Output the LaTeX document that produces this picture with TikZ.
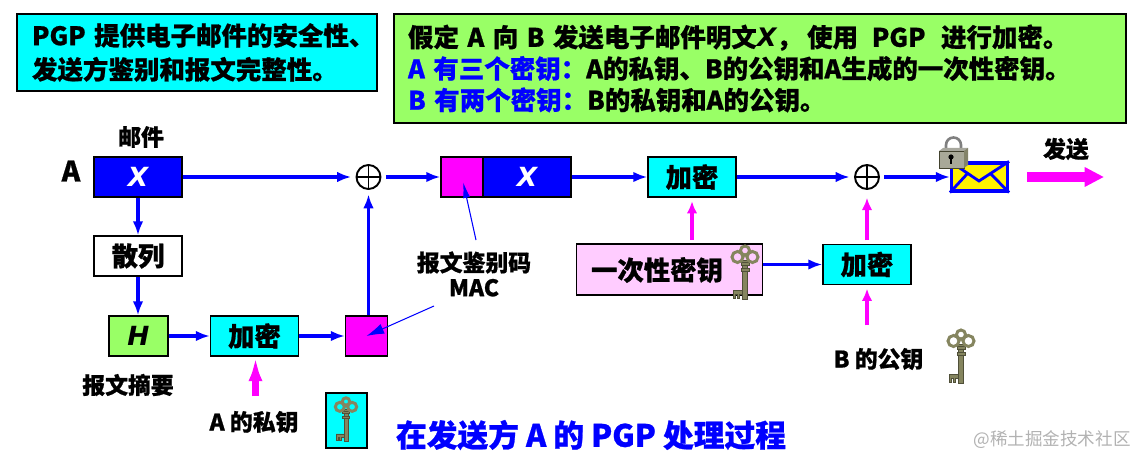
\documentclass[tikz,border=0pt]{standalone}
\usepackage{fontspec}
\setmainfont{Noto Sans CJK SC}[BoldFeatures={FakeBold=0.8}]
\newfontfamily\xfont{DejaVu Sans}
\usetikzlibrary{arrows.meta}

\definecolor{boxcyan}{HTML}{00FFFF}
\definecolor{boxgreen}{HTML}{99FF66}
\definecolor{boxpink}{HTML}{FFCCFF}
\definecolor{boxmagenta}{HTML}{FF00FF}
\definecolor{keygray}{HTML}{85855F}

\tikzset{
    plainbox/.style={draw=black, line width=.7pt, minimum height=.8cm},
    infobox/.style={plainbox, align=left, font=\fontsize{14.5}{#1}\selectfont\bfseries},
    mailbox/.style={plainbox, fill=blue, text=white, minimum width=1.76cm, font=\fontsize{15}{18}\xfont\bfseries\itshape},
    encbox/.style={plainbox, fill=boxcyan, minimum width=1.76cm, font=\fontsize{15}{18}\selectfont\bfseries},
    macbox/.style={plainbox, fill=boxmagenta, minimum width=.84cm},
    tag/.style={font=\fontsize{13}{14.2}\selectfont\bfseries, align=center},
    xorsum/.style={circle, draw=black, line width=1.1pt, minimum size=.48cm, inner sep=0pt, outer sep=3pt,
        path picture={\draw[line width=.9pt] (path picture bounding box.north) -- (path picture bounding box.south)
            (path picture bounding box.west) -- (path picture bounding box.east);}},
    bluearrow/.style={draw=blue, line width=2pt, -{Latex[length=8pt, width=6pt]}},
    pinkarrow/.style={draw=boxmagenta, line width=2.3pt, shorten >=2pt, shorten <=2pt, -{Latex[length=7pt, width=6pt]}},
    thinarrow/.style={draw=blue, line width=.6pt, shorten >=3pt, -{Latex[length=9pt, width=4pt]}},
    pics/keyicon/.style={code={
        \draw[keygray!60!black, line width=.3pt, fill=keygray] (-2.5,15) rectangle (2.5,54);
        \draw[keygray!60!black, line width=.3pt, fill=keygray] (-2.5,45) -- (-12,45) -- (-12,53) -- (-10,53) -- (-10,49)
            -- (-8,49) -- (-8,53) -- (-6,53) -- (-6,49) -- (-2.5,49) -- cycle;
        \draw[keygray!60!black, line width=.3pt, fill=keygray] (-4,17) rectangle (4,20) (-4,23) rectangle (4,26);
        \draw[keygray, line width=1.7pt] (-7.5,12) circle (5.5) (7.5,12) circle (5.5) (0,5.5) circle (4.5);
    }}
}

\begin{document}
\begin{tikzpicture}[x=0.02cm, y=-0.02cm]
    \useasboundingbox (0,0) rectangle (1147,466);

    \node (goal) [infobox=19.3, fill=boxcyan, text width=6.6cm, inner xsep=.3cm, minimum height=1.54cm] at (197,52.5)
        {\mbox{PGP 提供电子邮件的安全性、}\\发送方鉴别和报文完整性。};
    \node (assume) [infobox=17.9, fill=boxgreen, text width=14.08cm, inner xsep=.28cm, minimum height=2.18cm] at (760,68.5)
        {假定 A 向 B 发送电子邮件明文{\xfont\bfseries\itshape X}，\hspace{3pt}使用\hspace{3pt} PGP \hspace{4pt}进行加密。\\
        \textcolor{blue}{A 有三个密钥：}A的私钥、B的公钥和A生成的一次性密钥。\\
        \textcolor{blue}{B 有两个密钥：}B的私钥和A的公钥。};

    % top row
    \node (sender) [tag, font=\fontsize{16}{18}\selectfont\bfseries] at (71,171) {A};
    \node (mailtag) [tag] at (141,137) {邮件};
    \node (mail) [mailbox] at (138,177) {X};
    \node (xorone) [xorsum] at (368.5,177) {};
    \node (mac) [macbox] at (462,177) {};
    \node (mailtwo) [mailbox] at (527,177) {X};
    \node (encone) [encbox] at (692,177) {加密};
    \node (xortwo) [xorsum] at (867,177) {};
    \node (envelope) [draw=blue, line width=1.8pt, fill=yellow, minimum width=1.12cm, minimum height=.56cm, inner sep=0pt] at (979.5,177) {};
    \draw[blue, line width=1.6pt] (envelope.north west) -- (979,181) -- (envelope.north east);
    \draw[blue, line width=1.6pt] (envelope.south west) -- (968,173) (envelope.south east) -- (990,173);

    % lock
    \draw[gray, line width=1.5pt] (946,150) -- (946,145) arc (180:360:7.5) -- (961,150);
    \fill[gray!60!keygray!70] (939,151) -- (943,148) -- (968,148) -- (967,151) -- cycle;
    \draw[keygray!50!black, line width=.4pt, fill=keygray!60!gray!70] (939,151) rectangle (964,168);
    \fill[keygray!70!gray] (964,151) -- (968,148) -- (968,165) -- (964,168) -- cycle;
    \fill[black] (951,157) circle (2.6);
    \fill[black] (950,157) rectangle (952,164);

    \node (sendtag) [tag] at (1066,149) {发送};
    \coordinate (sendfrom) at (1027,177);
    \coordinate (sendto) at (1104,177);
    \draw[draw=boxmagenta, line width=5.7pt, -{Triangle[length=11pt, width=10.5pt]}] (sendfrom) -- (sendto);

    \draw[bluearrow] (mail.east) -- (xorone.west);
    \draw[bluearrow] (xorone.east) -- (mac.west);
    \draw[bluearrow] (mailtwo.east) -- (encone.west);
    \draw[bluearrow] (encone.east) -- (xortwo.west);
    \draw[bluearrow] (xortwo.east) -- (envelope.west);

    % left part
    \node (hashbox) [plainbox, fill=white, minimum width=1.76cm, font=\fontsize{15}{18}\selectfont\bfseries] at (138,256) {散列};
    \node (digest) [plainbox, fill=boxgreen, minimum width=1.18cm, font=\fontsize{15}{18}\xfont\bfseries\itshape] at (138.5,336) {H};
    \node (digesttag) [tag] at (128,385) {报文摘要};
    \node (enctwo) [encbox] at (254.5,336) {加密};
    \node (macsmall) [macbox] at (366.5,336) {};
    \node (privtag) [tag] at (254,422) {A 的私钥};
    \node (privbox) [plainbox, fill=boxcyan, minimum width=.82cm, minimum height=1.1cm] at (346.5,420.5) {};
    \pic[scale=.82] at (346,397) {keyicon};
    \coordinate (privfrom) at (255.5,396);

    \draw[bluearrow] (mail.south) -- (hashbox.north);
    \draw[bluearrow] (hashbox.south) -- (hashbox.south |- digest.north);
    \draw[bluearrow] (digest.east) -- (enctwo.west);
    \draw[bluearrow] (enctwo.east) -- (macsmall.west);
    \draw[bluearrow] (macsmall.north -| xorone.south) -- (xorone.south);
    \draw[draw=boxmagenta, line width=4pt, -{Latex[length=14pt, width=8pt]}] (privfrom) -- (enctwo.south -| privfrom);

    % one-time key and B public key
    \node (onekey) [plainbox, fill=boxpink, minimum width=3.72cm, minimum height=1.02cm] at (669.5,269.5) {};
    \node (onekeytag) [font=\fontsize{15}{18}\selectfont\bfseries] at (657,270) {一次性密钥};
    \pic at (745,245) {keyicon};
    \node (encthree) [encbox] at (867,264.5) {加密};
    \node (pubtag) [tag] at (878.5,359) {B 的公钥};
    \pic at (961,329) {keyicon};
    \coordinate (pubfrom) at (867,329);

    \draw[pinkarrow] (onekey.north -| encone.south) -- (encone.south);
    \draw[bluearrow] (onekey.east |- encthree.west) -- (encthree.west);
    \draw[pinkarrow] (encthree.north) -- (xortwo.south);
    \draw[pinkarrow] (pubfrom) -- (encthree.south);

    % mac label
    \node (mactag) [tag] at (474,274) {报文鉴别码\\MAC};
    \coordinate (macfromtop) at (476,240);
    \coordinate (macfromlow) at (434,306);
    \draw[thinarrow] (macfromtop) -- (mac.center);
    \draw[thinarrow, -{Latex[length=10pt, width=6pt]}, shorten >=0pt] (macfromlow) -- (macsmall.center);

    \node (title) [text=blue, font=\fontsize{17.5}{20}\selectfont\bfseries] at (591,435) {在发送方 A 的 PGP 处理过程};
    \node (mark) [text=gray!60, font=\fontsize{10}{12}\selectfont] at (1052,440) {@稀土掘金技术社区};
\end{tikzpicture}
\end{document}
